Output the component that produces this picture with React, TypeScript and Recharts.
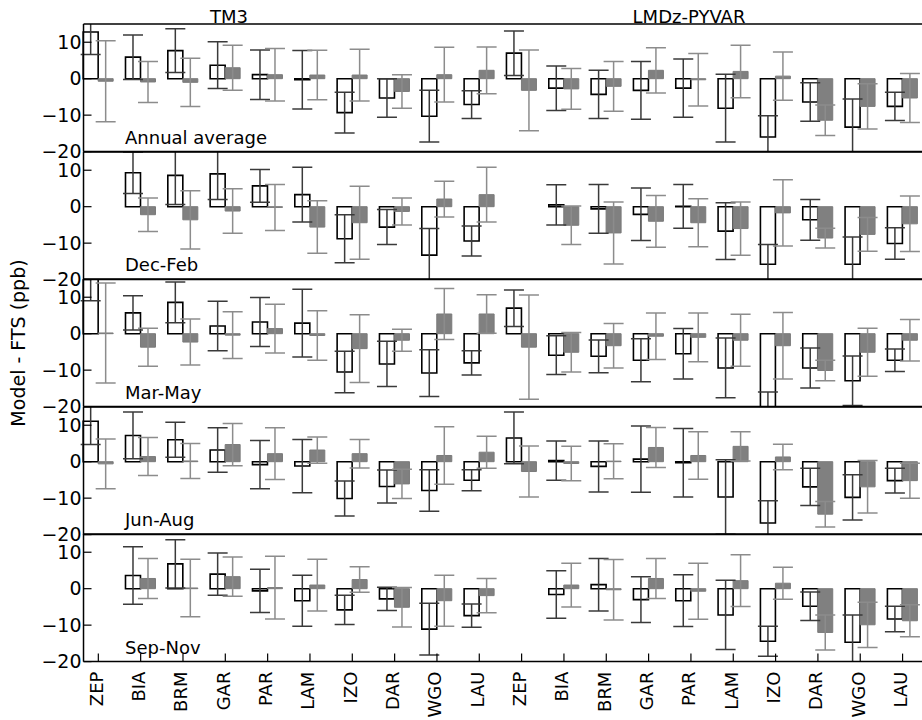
import { BarChart, Bar, XAxis, YAxis, ErrorBar } from "recharts";

// station order, repeated for the two models
const stations = ["ZEP", "BIA", "BRM", "GAR", "PAR", "LAM", "IZO", "DAR", "WGO", "LAU"];
const tickLabels = [...stations, ...stations];
const modelNames = ["TM3", "LMDz-PYVAR"];
const yTicks = [-20, -10, 0, 10];

// values: TM3 first ten, LMDz-PYVAR last ten (ppb)
const annualHollow = [12.8, 5.9, 7.7, 3.7, 1.1, -0.3, -9.3, -5.3, -10.3, -7.1, 7.0, -2.6, -4.3, -3.2, -2.6, -8.1, -16.0, -6.4, -13.3, -7.6];
const annualHollowErr = [6.2, 6.1, 6.0, 6.4, 6.8, 8.0, 5.6, 5.3, 7.1, 3.8, 6.1, 6.1, 6.6, 7.9, 8.0, 9.3, 5.8, 5.3, 7.7, 3.9];
const annualShaded = [-0.7, -0.9, -1.0, 3.0, 1.1, 1.0, 1.0, -3.5, 1.1, 2.3, -3.2, -2.8, -2.1, 2.3, -0.3, 2.0, 0.7, -11.4, -7.6, -5.3];
const annualShadedErr = [11.1, 5.6, 6.6, 6.2, 7.2, 6.8, 7.1, 4.6, 7.5, 6.4, 11.1, 5.6, 6.8, 6.2, 7.2, 7.2, 6.6, 4.2, 6.2, 6.7];

const djfHollow = [null, 9.3, 8.6, 9.0, 5.7, 3.3, -8.8, -5.6, -13.3, -9.4, null, 0.5, -0.6, -2.1, 0.1, -6.7, -15.8, -3.6, -15.8, -10.1];
const djfHollowErr = [null, 5.7, 8.0, 7.0, 4.5, 7.5, 6.6, 4.8, 7.3, 4.1, null, 5.5, 6.7, 7.2, 6.0, 7.8, 5.4, 5.6, 7.5, 4.3];
const djfShaded = [null, -2.2, -3.6, -1.2, -0.2, -5.6, -4.4, -1.3, 2.1, 3.3, null, -5.1, -7.2, -4.0, -4.4, -6.0, -1.7, -8.6, -7.6, -4.7];
const djfShadedErr = [null, 4.6, 8.0, 6.1, 6.3, 7.2, 10.0, 3.7, 4.9, 7.5, null, 5.3, 8.5, 7.1, 6.6, 7.3, 9.1, 2.7, 4.6, 7.6];

const mamHollow = [16.5, 5.7, 8.6, 2.1, 3.2, 2.9, -10.5, -8.3, -10.8, -8.0, 7.0, -5.9, -6.2, -7.3, -5.5, -9.4, -23.0, -9.4, -12.9, -7.3];
const mamHollowErr = [7.5, 4.7, 5.6, 6.8, 6.7, 9.3, 5.7, 6.2, 6.4, 3.3, 5.0, 5.3, 4.5, 5.9, 6.9, 8.2, 7.0, 5.5, 6.8, 3.1];
const mamShaded = [0.2, -3.7, -2.3, -0.4, 1.4, -0.5, -4.1, -1.8, 5.4, 5.4, -3.7, -5.1, -3.3, -0.7, -1.0, -1.8, -3.3, -10.1, -5.1, -1.8];
const mamShadedErr = [13.7, 5.2, 6.3, 6.4, 6.7, 6.8, 9.3, 3.0, 7.0, 5.3, 14.3, 5.4, 6.1, 6.4, 6.7, 7.1, 9.1, 2.8, 6.6, 5.7];

const jjaHollow = [11.1, 7.2, 6.0, 3.2, -0.8, -1.2, -10.1, -6.8, -7.9, -5.1, 6.5, 0.3, -1.3, 0.7, -0.3, -9.7, -16.8, -6.9, -9.8, -5.2];
const jjaHollowErr = [6.4, 6.4, 4.8, 6.1, 6.6, 7.3, 4.8, 4.5, 5.7, 2.9, 7.1, 5.4, 7.0, 9.1, 9.4, 10.2, 6.1, 5.1, 6.2, 3.4];
const jjaShaded = [-0.6, 1.4, 0.2, 4.7, 2.2, 3.2, 2.2, -6.1, 1.7, 2.6, -2.7, -0.5, 0.15, 3.9, 1.7, 4.2, 1.3, -14.4, -6.9, -5.2];
const jjaShadedErr = [6.8, 5.2, 4.8, 5.8, 7.1, 3.6, 3.9, 4.0, 7.9, 4.4, 7.0, 4.7, 4.8, 5.5, 6.5, 4.0, 3.5, 3.5, 7.2, 4.8];

const sonHollow = [null, 3.6, 6.8, 4.0, -0.6, -3.3, -5.8, -2.8, -11.1, -7.4, null, -1.6, 1.1, -3.0, -3.3, -7.2, -14.4, -4.8, -14.7, -8.3];
const sonHollowErr = [null, 7.9, 6.6, 5.8, 5.9, 7.0, 4.0, 3.2, 7.1, 3.2, null, 6.5, 7.2, 6.3, 7.1, 9.5, 4.1, 3.9, 7.5, 3.5];
const sonShaded = [null, 2.8, 0.2, 3.3, 0.3, 1.0, 2.5, -5.1, -3.3, -1.9, null, 1.0, -0.3, 2.8, -0.7, 2.2, 1.5, -12.0, -9.9, -8.8];
const sonShadedErr = [null, 5.5, 7.9, 5.4, 8.6, 7.1, 3.5, 5.4, 7.0, 4.7, null, 6.0, 8.3, 5.5, 7.7, 7.1, 4.4, 4.8, 6.2, 4.4];

const seasons = [
  { name: "Annual average", hollow: annualHollow, hollowErr: annualHollowErr, shaded: annualShaded, shadedErr: annualShadedErr },
  { name: "Dec-Feb", hollow: djfHollow, hollowErr: djfHollowErr, shaded: djfShaded, shadedErr: djfShadedErr },
  { name: "Mar-May", hollow: mamHollow, hollowErr: mamHollowErr, shaded: mamShaded, shadedErr: mamShadedErr },
  { name: "Jun-Aug", hollow: jjaHollow, hollowErr: jjaHollowErr, shaded: jjaShaded, shadedErr: jjaShadedErr },
  { name: "Sep-Nov", hollow: sonHollow, hollowErr: sonHollowErr, shaded: sonShaded, shadedErr: sonShadedErr },
];

// layout
const CHART_W = 940;
const PLOT_LEFT = 83.5;
const BAND = 42.33;
const PLOT_W = BAND * tickLabels.length;
const PAD = BAND * 0.15;
const PANEL_TOP = 24;
const PANEL_H = 127.6;
const FONT = "'DejaVu Sans', sans-serif";

const fmt = (v: number) => (v < 0 ? "\u2212" + Math.abs(v) : String(v));

const StationTick = (props: any) => {
  const { x, y, payload } = props;
  const bx = x + 4.5;
  return (
    <text
      x={bx}
      y={y}
      transform={`rotate(-90, ${bx}, ${y})`}
      textAnchor="end"
      fontSize={18}
      fontFamily={FONT}
      fill="#000"
    >
      {tickLabels[payload.value]}
    </text>
  );
};

// one panel is drawn twice: the bars (clipped to the plot box, like matplotlib)
// and then the frame, ticks and tick labels on top of them
function Panel({ index, layer }: { index: number; layer: "bars" | "axes" }) {
  const s = seasons[index];
  const last = index === seasons.length - 1;
  const rows = tickLabels.map((label, i) => ({
    slot: i,
    label,
    hollow: s.hollow[i],
    hollowErr: s.hollowErr[i],
    shaded: s.shaded[i],
    shadedErr: s.shadedErr[i],
  }));
  const mt = 20;
  const mb = last ? 60 : 20;
  const bars = layer === "bars";
  const axisLine = bars ? false : { stroke: "#000", strokeWidth: 1.5 };
  const tickLine = bars ? false : { stroke: "#000", strokeWidth: 1.2 };

  return (
    <div
      style={{
        position: "absolute",
        left: 0,
        top: PANEL_TOP + index * PANEL_H - mt,
        clipPath: bars ? `inset(${mt}px 0px ${mb}px 0px)` : undefined,
      }}
    >
      <BarChart
        width={CHART_W}
        height={mt + PANEL_H + mb}
        data={rows}
        margin={{ top: mt - 1, bottom: mb - 1, left: PLOT_LEFT - 1, right: CHART_W - PLOT_LEFT - PLOT_W - 1 }}
        barGap={0}
      >
        {bars && (
          <Bar dataKey="hollow" barSize={15} fill="#fff" stroke="#000" strokeWidth={1.6} isAnimationActive={false}>
            <ErrorBar dataKey="hollowErr" width={10} stroke="#3a3a3a" strokeWidth={1.5} />
          </Bar>
        )}
        {bars && (
          <Bar dataKey="shaded" barSize={15} fill="#808080" stroke="#7a7a7a" strokeWidth={1} isAnimationActive={false}>
            <ErrorBar dataKey="shadedErr" width={10} stroke="#8c8c8c" strokeWidth={1.5} />
          </Bar>
        )}
        <XAxis
          dataKey="slot"
          type="category"
          padding={{ left: -PAD, right: PAD }}
          height={1}
          interval={0}
          tickSize={-8}
          tickMargin={18}
          axisLine={axisLine}
          tickLine={tickLine}
          tick={last && !bars ? <StationTick /> : false}
        />
        <XAxis
          xAxisId="top"
          orientation="top"
          dataKey="slot"
          type="category"
          padding={{ left: -PAD, right: PAD }}
          height={1}
          interval={0}
          tickSize={-8}
          axisLine={axisLine}
          tickLine={tickLine}
          tick={false}
        />
        <YAxis
          domain={[-20, 15]}
          allowDataOverflow
          ticks={yTicks}
          width={1}
          tickSize={-8}
          tickMargin={10}
          tickFormatter={fmt}
          axisLine={axisLine}
          tickLine={tickLine}
          tick={bars ? false : { fontSize: 19, fill: "#000", fontFamily: FONT }}
        />
        <YAxis
          yAxisId="right"
          orientation="right"
          domain={[-20, 15]}
          allowDataOverflow
          ticks={yTicks}
          width={1}
          tickSize={-8}
          axisLine={axisLine}
          tickLine={tickLine}
          tick={false}
        />
      </BarChart>
    </div>
  );
}

export default function App() {
  const midY = PANEL_TOP + (PANEL_H * seasons.length) / 2;
  return (
    <div
      style={{
        position: "absolute",
        left: 0,
        top: 0,
        width: 922,
        height: 720,
        overflow: "hidden",
        background: "#fff",
        fontFamily: FONT,
      }}
    >
      {seasons.map((s, i) => (
        <Panel key={s.name + "-bars"} index={i} layer="bars" />
      ))}
      {seasons.map((s, i) => (
        <Panel key={s.name + "-axes"} index={i} layer="axes" />
      ))}
      <svg
        width={922}
        height={720}
        style={{ position: "absolute", left: 0, top: 0, pointerEvents: "none" }}
        fontFamily={FONT}
      >
        <text x={229} y={23} textAnchor="middle" fontSize={18} fill="#000">
          {modelNames[0]}
        </text>
        <text x={689} y={23} textAnchor="middle" fontSize={18} fill="#000">
          {modelNames[1]}
        </text>
        {seasons.map((s, i) => (
          <text key={s.name} x={125} y={PANEL_TOP + (i + 1) * PANEL_H - 8} fontSize={18} fill="#000">
            {s.name}
          </text>
        ))}
        <text
          x={18}
          y={midY}
          transform={`rotate(-90, 18, ${midY})`}
          textAnchor="middle"
          dominantBaseline="central"
          fontSize={19}
          fill="#000"
        >
          Model - FTS (ppb)
        </text>
      </svg>
    </div>
  );
}
